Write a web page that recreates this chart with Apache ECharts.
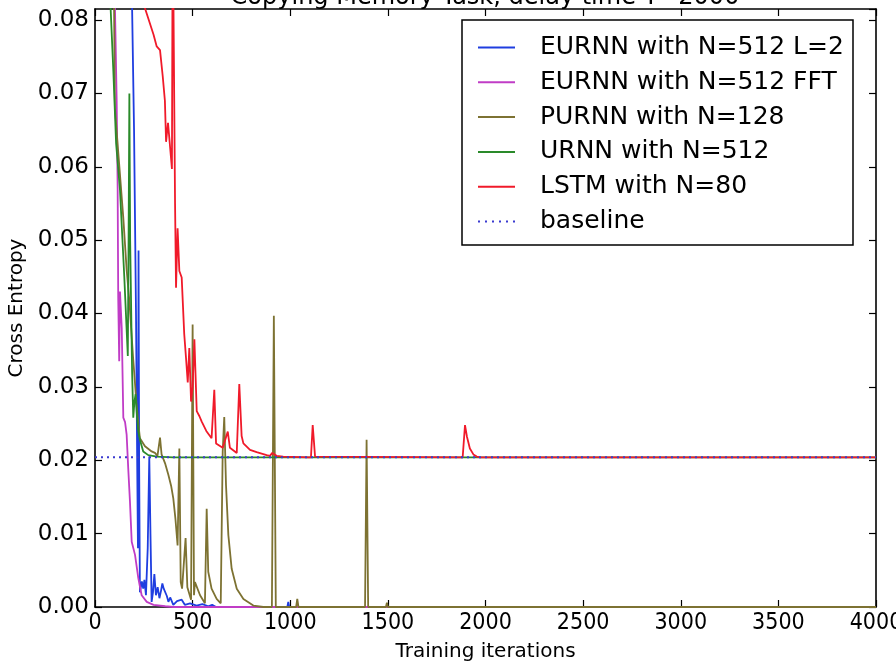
<!DOCTYPE html>
<html>
<head>
<meta charset="utf-8">
<script src="https://cdn.jsdelivr.net/npm/echarts@6/dist/echarts.min.js"></script>
<style>
html,body{margin:0;padding:0;background:#fff;}
#chart{width:896px;height:663px;}
</style>
</head>
<body>
<div id="chart"></div>
<script>
// ---- data: [training iteration, cross entropy] ----
var titleText = "Copying Memory Task, delay time T=2000";
var seriesNames = ["EURNN with N=512 L=2", "EURNN with N=512 FFT", "PURNN with N=128", "URNN with N=512", "LSTM with N=80", "baseline"];
var xTicks = [0, 500, 1000, 1500, 2000, 2500, 3000, 3500, 4000];
var yTicks = [0.00, 0.01, 0.02, 0.03, 0.04, 0.05, 0.06, 0.07, 0.08];

var eurnnL2 = [[0,0.2],[150,0.12],[188,0.085],[200,0.065],[210,0.04],[216,0.02],[220,0.008],[223,0.0486],[226,0.02],[230,0.002],
  [240,0.0035],[247,0.0025],[253,0.0037],[261,0.0016],[270,0.008],[278,0.0205],[284,0.01],[290,0.0007],[297,0.002],[304,0.0045],
  [312,0.0016],[321,0.0027],[330,0.0012],[338,0.0022],[345,0.0032],[352,0.0025],[360,0.0027],[368,0.0015],[376,0.0007],[385,0.0013],
  [393,0.0011],[401,0.0003],[420,0.0008],[444,0.001],[460,0.0003],[487,0.0005],[520,0.0002],[550,0.0004],[580,0.0001],[600,0.0003],
  [620,0],[985,0],[990,0.0007],[995,0],[4000,0]];

var eurnnFFT = [[0,0.2],[100,0.085],[111,0.069],[116,0.057],[119,0.042],[124,0.0335],[128,0.043],[137,0.038],[145,0.0258],[154,0.0252],
  [162,0.0235],[170,0.019],[179,0.0144],[188,0.0089],[205,0.0071],[222,0.0039],[239,0.0016],[265,0.0007],[300,0.0003],[360,0.0001],
  [400,0],[4000,0]];

var purnn = [[0,0.2],[95,0.09],[102,0.068],[119,0.062],[145,0.053],[162,0.046],[176,0.0417],[195,0.034],[213,0.0276],[222,0.025],
  [230,0.023],[256,0.0219],[290,0.0212],[307,0.021],[320,0.0206],[333,0.0231],[341,0.0208],[360,0.0195],[376,0.018],[390,0.0165],
  [401,0.0148],[412,0.012],[423,0.0084],[432,0.0216],[439,0.0034],[446,0.0025],[464,0.0094],[473,0.0027],[492,0.001],[500,0.0385],
  [507,0.0016],[512,0.0034],[538,0.0016],[563,0.0005],[572,0.0134],[580,0.0048],[597,0.0025],[623,0.0011],[644,0.0005],[654,0.0212],
  [662,0.0259],[671,0.0166],[683,0.0098],[700,0.0052],[726,0.0025],[760,0.0011],[811,0.0002],[862,0],[906,0],[916,0.0397],[926,0],
  [1030,0],[1036,0.0011],[1042,0],[1383,0],[1391,0.0228],[1399,0],[1490,0],[1495,0.0006],[1500,0],[4000,0]];

var urnn = [[0,0.2],[80,0.0816],[94,0.073],[108,0.0632],[128,0.0568],[150,0.045],[168,0.0342],[172,0.05],[176,0.07],[180,0.05],
  [190,0.032],[196,0.0258],[202,0.028],[208,0.029],[215,0.026],[222,0.0239],[230,0.0228],[247,0.0212],[273,0.0207],[316,0.0205],
  [400,0.0204],[4000,0.0204]];

var lstm = [[0,0.2],[240,0.09],[256,0.0816],[300,0.078],[316,0.0764],[333,0.0759],[347,0.0723],[358,0.069],[364,0.0634],[374,0.066],
  [394,0.0597],[398,0.095],[410,0.055],[415,0.0435],[423,0.0516],[432,0.0458],[444,0.0449],[457,0.0372],[466,0.034],[475,0.0306],
  [483,0.0353],[492,0.028],[500,0.03],[509,0.0365],[512,0.0365],[521,0.0267],[535,0.026],[546,0.0253],[570,0.024],[597,0.023],
  [611,0.0296],[620,0.0223],[654,0.0217],[680,0.0239],[691,0.0217],[726,0.021],[739,0.0304],[751,0.0233],[760,0.0223],[794,0.0214],
  [828,0.0211],[879,0.0207],[896,0.0206],[908,0.021],[930,0.0206],[964,0.0205],[1093,0.0204],[1106,0.0204],[1115,0.0248],[1127,0.0205],
  [1883,0.0204],[1895,0.0248],[1905,0.0232],[1920,0.0216],[1938,0.0208],[1955,0.0205],[1972,0.0204],[2000,0.0204],[4000,0.0204]];

var baseline = [[0,0.0204],[4000,0.0204]];

var colors = ["#1f3ee0", "#c03cc6", "#7d7232", "#2a8a2a", "#f01a2a", "#3a3ad0"];

var chart = echarts.init(document.getElementById('chart'));
var FONT = "DejaVu Sans";

function axisCommon() {
  return {
    axisLine: {show: true, onZero: false, lineStyle: {color: '#000', width: 1.6}},
    axisTick: {show: true, inside: true, length: 7, lineStyle: {color: '#000', width: 1.2}},
    splitLine: {show: false}
  };
}

var xBottom = Object.assign(axisCommon(), {
  type: 'value', min: xTicks[0], max: xTicks[xTicks.length - 1], interval: xTicks[1] - xTicks[0], position: 'bottom',
  axisLabel: {color: '#000', fontFamily: "DejaVu Sans Condensed", fontSize: 23, margin: 5,
    formatter: function (v) { return String(v); }},
  name: 'Training iterations', nameLocation: 'middle', nameGap: 35,
  nameTextStyle: {color: '#000', fontFamily: FONT, fontSize: 20}
});
var xTop = Object.assign(axisCommon(), {
  type: 'value', min: xTicks[0], max: xTicks[xTicks.length - 1], interval: xTicks[1] - xTicks[0], position: 'top',
  axisLabel: {show: false}
});
var yLeft = Object.assign(axisCommon(), {
  type: 'value', min: yTicks[0], max: 0.0815, interval: yTicks[1] - yTicks[0], position: 'left',
  axisLabel: {color: '#000', fontFamily: FONT, fontSize: 23, margin: 6, showMaxLabel: false,
    formatter: function (v) { return v.toFixed(2); }},
  name: 'Cross Entropy', nameLocation: 'middle', nameGap: 61,
  nameTextStyle: {color: '#000', fontFamily: FONT, fontSize: 20}
});
var yRight = Object.assign(axisCommon(), {
  type: 'value', min: yTicks[0], max: 0.0815, interval: yTicks[1] - yTicks[0], position: 'right',
  axisLabel: {show: false}
});

var lineIcon = 'path://M0,0h37v2h-37z';
var dotIcon = 'path://M0,0h2v2h-2zM7,0h2v2h-2zM14,0h2v2h-2zM21,0h2v2h-2zM28,0h2v2h-2zM35,0h2v2h-2z';

var dataSets = [eurnnL2, eurnnFFT, purnn, urnn, lstm, baseline];
var series = dataSets.map(function (d, i) {
  return {
    name: seriesNames[i], type: 'line', data: d, symbol: 'none', showSymbol: false,
    xAxisIndex: 0, yAxisIndex: 0, animation: false, z: 2 + i * 0.01,
    lineStyle: {color: colors[i], width: i === 5 ? 2 : 1.8, type: i === 5 ? [2, 4] : 'solid'},
    itemStyle: {color: colors[i]}
  };
});

chart.setOption({
  animation: false,
  backgroundColor: '#fff',
  grid: {left: 95, right: 20, top: 9, bottom: 56, outerBoundsMode: 'none', containLabel: false},
  xAxis: [xBottom, xTop],
  yAxis: [yLeft, yRight],
  legend: {
    orient: 'vertical', left: 478, top: 35, padding: 0, itemGap: 9.8,
    itemWidth: 37, itemHeight: 2, z: 10,
    textStyle: {color: '#000', fontFamily: FONT, fontSize: 25, lineHeight: 24, padding: [0, 0, 0, 20]},
    data: seriesNames.map(function (n, i) {
      return {name: n, icon: i === 5 ? dotIcon : lineIcon, itemStyle: {color: colors[i]}};
    })
  },
  graphic: [
    {type: 'rect', z: 5, zlevel: 0, shape: {x: 462, y: 20, width: 391, height: 225},
      style: {fill: '#fff', stroke: '#000', lineWidth: 1.5}},
    {type: 'text', z: 5, x: 485, y: 10, style: {text: titleText, fill: '#000', font: '24px "DejaVu Sans"',
      textAlign: 'center', textVerticalAlign: 'bottom'}}
  ],
  series: series
});
</script>
</body>
</html>
